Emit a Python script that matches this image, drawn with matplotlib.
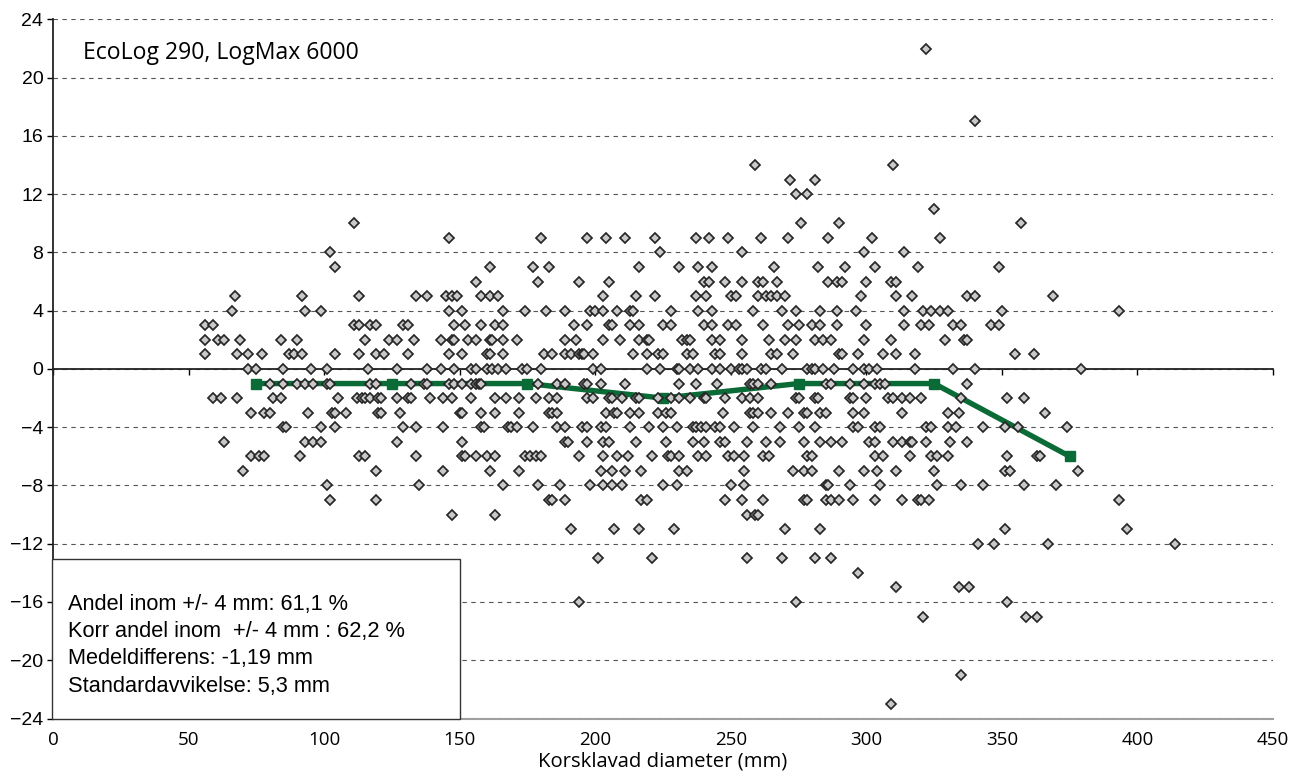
"""Scatter of measurement differences against cross-calipered diameter."""

import matplotlib

matplotlib.use('Agg')  # Non-interactive backend
import matplotlib.pyplot as plt
from matplotlib.patches import Rectangle

# Difference (mm) for each row of points, and the diameters (mm) observed at that difference
diff_levels = [22, 17, 14, 13, 12, 11, 10, 9, 8, 7, 6, 5, 4, 3, 2, 1, 0,
               -1, -2, -3, -4, -5, -6, -7, -8, -9, -10, -11, -12, -13, -14,
               -15, -16, -17, -21, -23]
diam_at_level = [
    [322],
    [340],
    [259, 310],
    [272, 281],
    [274, 278],
    [325],
    [111, 276, 290, 357],
    [146, 180, 197, 204, 211, 222, 237, 242, 249, 261, 271, 286, 302, 327],
    [102, 224, 254, 299, 314],
    [104, 161, 177, 183, 216, 231, 238, 243, 266, 282, 292, 303, 319, 349],
    [156, 179, 194, 205, 240, 242, 248, 254, 260, 262, 267, 286, 289, 291,
     300, 309, 311],
    [67, 92, 113, 134, 138, 145, 147, 149, 158, 161, 164, 203, 215, 222, 237,
     241, 250, 252, 260, 263, 265, 267, 270, 298, 311, 317, 337, 340, 369],
    [66, 93, 99, 146, 151, 166, 174, 182, 189, 198, 200, 203, 208, 213, 214,
     228, 238, 243, 258, 269, 274, 283, 289, 296, 314, 321, 324, 327, 330,
     350, 393],
    [56, 59, 111, 113, 117, 119, 129, 131, 148, 152, 158, 163, 166, 192, 197,
     205, 206, 213, 216, 225, 228, 240, 243, 249, 252, 262, 271, 275, 280,
     283, 289, 300, 314, 320, 323, 332, 335, 346, 349],
    [56, 61, 63, 69, 84, 90, 115, 124, 127, 133, 143, 147, 148, 153, 156, 161,
     162, 166, 171, 189, 193, 203, 209, 216, 219, 220, 232, 234, 235, 243,
     246, 254, 264, 270, 274, 281, 284, 287, 299, 309, 329, 336, 337],
    [56, 68, 72, 77, 87, 89, 92, 104, 113, 119, 122, 131, 146, 151, 160, 161,
     166, 181, 184, 189, 191, 194, 195, 196, 199, 214, 219, 223, 225, 234,
     236, 244, 246, 254, 265, 267, 273, 290, 291, 297, 306, 311, 318, 355,
     362],
    [72, 75, 85, 95, 101, 116, 127, 138, 143, 148, 154, 156, 160, 162, 164,
     167, 173, 175, 180, 199, 202, 219, 224, 230, 231, 235, 238, 243, 246,
     250, 253, 254, 256, 261, 263, 269, 278, 280, 281, 284, 288, 295, 299,
     301, 304, 318, 332, 340, 379],
    [80, 85, 90, 93, 96, 101, 102, 117, 119, 132, 137, 138, 146, 148, 151,
     154, 156, 157, 158, 179, 186, 189, 196, 197, 202, 211, 231, 237, 245,
     257, 258, 260, 265, 285, 287, 294, 299, 303, 305, 307, 337],
    [59, 62, 68, 81, 84, 105, 112, 114, 115, 117, 120, 121, 127, 131, 132,
     139, 144, 147, 154, 163, 167, 172, 178, 183, 186, 197, 199, 205, 206,
     210, 215, 216, 223, 228, 231, 235, 240, 241, 248, 254, 257, 260, 274,
     275, 281, 282, 294, 295, 300, 308, 310, 313, 316, 320, 335, 352, 358],
    [73, 78, 80, 94, 103, 104, 108, 120, 121, 128, 150, 151, 158, 163, 172,
     183, 184, 186, 204, 207, 208, 213, 216, 223, 226, 228, 247, 257, 258,
     260, 265, 271, 277, 278, 283, 285, 295, 299, 313, 330, 334, 366],
    [85, 86, 99, 104, 129, 134, 144, 158, 159, 168, 169, 171, 177, 186, 189,
     195, 197, 202, 204, 213, 220, 225, 230, 236, 237, 239, 241, 244, 246,
     251, 258, 268, 275, 281, 295, 297, 303, 305, 322, 324, 330, 333, 343,
     351, 356, 374],
    [63, 93, 96, 99, 127, 151, 189, 190, 197, 203, 205, 215, 226, 236, 240,
     246, 248, 256, 263, 268, 277, 283, 287, 291, 301, 303, 310, 313, 316,
     317, 322, 331, 337],
    [73, 76, 78, 91, 113, 115, 134, 151, 152, 156, 160, 163, 174, 176, 178,
     180, 194, 203, 208, 212, 221, 227, 228, 231, 238, 241, 249, 251, 255,
     262, 264, 278, 280, 303, 306, 316, 324, 326, 330, 352, 363, 364],
    [70, 119, 144, 161, 172, 202, 206, 211, 217, 231, 234, 255, 273, 277, 280,
     290, 299, 304, 311, 325, 351, 353, 378],
    [101, 135, 166, 179, 187, 198, 203, 206, 210, 225, 230, 250, 255, 285,
     286, 294, 305, 326, 335, 343, 358, 370],
    [102, 119, 183, 184, 189, 217, 219, 248, 254, 262, 277, 278, 285, 287,
     290, 295, 303, 313, 319, 320, 323, 393],
    [147, 163, 256, 259, 260],
    [191, 207, 216, 229, 270, 283, 351, 396],
    [341, 347, 367, 414],
    [201, 221, 256, 269, 281, 287],
    [297],
    [311, 334, 338],
    [194, 274, 352],
    [321, 359, 363],
    [335],
    [309],
]

# Mean difference per 50 mm diameter class
class_mid = [75, 125, 175, 225, 275, 325, 375]
class_mean = [-1, -1, -1, -2, -1, -1, -6]

xticks = list(range(0, 451, 50))
yticks = list(range(-24, 25, 4))

machine_label = 'EcoLog 290, LogMax 6000'
stats_lines = [
    'Andel inom +/- 4 mm: 61,1 %',
    'Korr andel inom  +/- 4 mm : 62,2 %',
    'Medeldifferens: -1,19 mm',
    'Standardavvikelse: 5,3 mm',
]
xlabel = 'Korsklavad diameter (mm)'

diam = [d for lvl, ds in zip(diff_levels, diam_at_level) for d in ds]
diff = [lvl for lvl, ds in zip(diff_levels, diam_at_level) for d in ds]

fig = plt.figure(figsize=(12.96, 7.82), dpi=100)
ax = fig.add_axes([0.0409, 0.0812, 0.9414, 0.8939])

ax.plot(class_mid, class_mean, color='#0b6b36', lw=3.9, marker='s', ms=7.4,
        solid_joinstyle='miter', zorder=2)
ax.plot(diam, diff, ls='none', marker='D', ms=5.1, mfc='#c9c9c9', mec='#262626',
        mew=1.25, zorder=3)

ax.set_xlim(0, 450)
ax.set_ylim(-24, 24)

# horizontal dashed grid
ax.set_yticks(yticks)
ax.grid(axis='y', linestyle=(0, (4, 4)), color='#555555', lw=0.8)
ax.set_axisbelow(True)
for lab in ax.get_yticklabels():
    lab.set_fontfamily('Liberation Sans')
    lab.set_fontsize(14)
ax.tick_params(axis='y', direction='out', length=4, width=1, color='black', pad=3)

for side in ('top', 'right'):
    ax.spines[side].set_visible(False)
ax.spines['left'].set_linewidth(1.3)
ax.spines['left'].set_color('#222222')

# x axis crosses at zero, labels sit at the bottom edge
ax.spines['bottom'].set_position(('data', 0))
ax.spines['bottom'].set_linewidth(1.3)
ax.spines['bottom'].set_color('#222222')
ax.set_xticks(xticks)
ax.tick_params(axis='x', direction='out', length=4, width=1, labelbottom=False)

sec = ax.secondary_xaxis('bottom')
sec.set_xticks(xticks)
sec.tick_params(length=0, pad=9)
sec.spines['bottom'].set_color('#a0a0a0')
sec.spines['bottom'].set_linewidth(1.5)
for lab in sec.get_xticklabels():
    lab.set_fontfamily('Open Sans')
    lab.set_fontsize(13.5)
sec.set_xlabel(xlabel, fontfamily='Open Sans', fontsize=14.6, labelpad=2)

ax.text(0.0246, 0.952, machine_label, transform=ax.transAxes, ha='left',
        va='center', fontfamily='Open Sans', fontsize=16.6)

ax.add_patch(Rectangle((-0.001, 0), 0.3345, 0.2279, transform=ax.transAxes,
                       facecolor='white', edgecolor='#333333', lw=1.0,
                       zorder=5, clip_on=False))
ax.text(0.0123, 0.1048, '\n'.join(stats_lines), transform=ax.transAxes,
        ha='left', va='center', fontfamily='Liberation Sans', fontsize=15.7,
        linespacing=1.4, zorder=6)

fig.savefig('out.png', dpi=100)
